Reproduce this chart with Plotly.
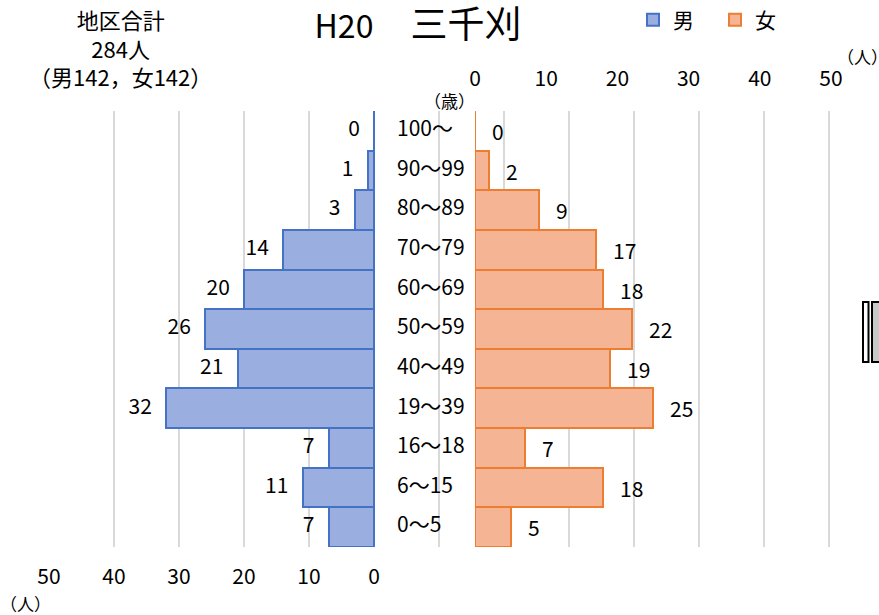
import plotly.graph_objects as go

W, H = 879, 615

categories = ["100〜", "90〜99", "80〜89", "70〜79", "60〜69", "50〜59",
              "40〜49", "19〜39", "16〜18", "6〜15", "0〜5"]
male = [0, 1, 3, 14, 20, 26, 21, 32, 7, 11, 7]
female = [0, 2, 9, 17, 18, 22, 19, 25, 7, 18, 5]
x_ticks = [0, 10, 20, 30, 40, 50]
title_latin = "H20"
title_cjk = "　三千刈"

FONT = "Noto Sans CJK JP, Noto Sans, sans-serif"
FS = 21
BLUE_LINE, BLUE_FILL = "#4472C4", "#9BAEE0"
ORANGE_LINE, ORANGE_FILL = "#ED7D31", "#F5B493"


def px(x):
    return x / W


def py(y):
    return 1 - y / H


NB = "\u00a0"

# male axis: 6.5 px per person, spans whole grid area
ppu_m = 6.5
x_left, x_right = 49, 831
m_range = [50, 50 - (x_right - x_left) / ppu_m]
label_x = 50 - (397 - x_left) / ppu_m   # where age labels start (in male axis units)
grid_vals = list(range(50, -80, -10))
grid_text = [str(v) if v >= 0 else "" for v in grid_vals]

fig = go.Figure()
fig.add_trace(go.Bar(
    y=categories, x=male, orientation="h", name="男",
    xaxis="x", yaxis="y",
    marker=dict(color=BLUE_FILL, line=dict(color=BLUE_LINE, width=2)),
))
# male value labels (left of bar ends)
fig.add_trace(go.Scatter(
    y=categories, x=male, mode="text",
    text=[f"{v}{NB*3}" for v in male], textposition="middle left",
    textfont=dict(size=FS, color="#000000", family=FONT),
    xaxis="x", yaxis="y", showlegend=False, hoverinfo="skip", cliponaxis=False,
))
# age category labels
fig.add_trace(go.Scatter(
    y=categories, x=[label_x] * len(categories), mode="text",
    text=categories, textposition="middle right",
    textfont=dict(size=FS, color="#000000", family=FONT),
    xaxis="x", yaxis="y", showlegend=False, hoverinfo="skip", cliponaxis=False,
))
fig.add_trace(go.Bar(
    y=categories, x=female, orientation="h", name="女",
    xaxis="x2", yaxis="y2",
    marker=dict(color=ORANGE_FILL, line=dict(color=ORANGE_LINE, width=2)),
    text=[f"{NB*3}{v}" for v in female], textposition="outside",
    textfont=dict(size=FS, color="#000000", family=FONT),
    constraintext="none", cliponaxis=False,
))

y_top, y_bot = 111, 547
ydom = [py(y_bot), py(y_top)]

fig.update_layout(
    width=W, height=H,
    margin=dict(l=0, r=0, t=0, b=0, autoexpand=False),
    paper_bgcolor="white", plot_bgcolor="rgba(0,0,0,0)",
    font=dict(family=FONT, size=FS, color="#000000"),
    bargap=0,
    showlegend=True,
    legend=dict(orientation="h", x=px(633), y=py(20), xanchor="left", yanchor="middle",
                font=dict(size=FS), entrywidth=37, entrywidthmode="pixels",
                bgcolor="rgba(0,0,0,0)"),
    title=dict(text=f"{title_latin}<span style='font-size:37px'>{title_cjk}</span>",
               x=px(418), y=py(27), xanchor="center", yanchor="middle",
               font=dict(size=32, family=FONT)),
    xaxis=dict(domain=[px(x_left), px(x_right)], range=m_range, anchor="y",
               tickvals=grid_vals, ticktext=grid_text, showgrid=True,
               gridcolor="#D9D9D9", gridwidth=2, zeroline=False, showline=False,
               ticks="", ticklabelstandoff=15, tickfont=dict(size=FS), automargin=False),
    yaxis=dict(domain=ydom, type="category", categoryorder="array",
               categoryarray=categories, range=[10.5, -0.5], anchor="x",
               showticklabels=False, showgrid=False, zeroline=False,
               showline=False, ticks="", automargin=False),
    xaxis2=dict(domain=[px(475), px(831)], range=[0, 50], anchor="y2", side="top",
                tickvals=x_ticks, showgrid=False, zeroline=False, showline=False,
                ticks="", ticklabelstandoff=20, tickfont=dict(size=FS), automargin=False),
    yaxis2=dict(domain=ydom, type="category", categoryorder="array",
                categoryarray=categories, range=[10.5, -0.5], anchor="x2",
                showticklabels=False, showgrid=False, zeroline=False, showline=False,
                automargin=False),
)

total_m, total_f = sum(male), sum(female)
fig.add_annotation(text=f"地区合計<br>{total_m + total_f}人<br>（男{total_m}，女{total_f}）",
                   x=px(120), y=py(48), xref="paper", yref="paper",
                   showarrow=False, font=dict(size=22), align="center",
                   xanchor="center", yanchor="middle")
fig.add_annotation(text="（人）", x=px(862), y=py(57), xref="paper", yref="paper",
                   showarrow=False, font=dict(size=17), xanchor="center", yanchor="middle")
fig.add_annotation(text="（歳）", x=px(450), y=py(101), xref="paper", yref="paper",
                   showarrow=False, font=dict(size=17), xanchor="center", yanchor="middle")
fig.add_annotation(text="（人）", x=px(25), y=py(603), xref="paper", yref="paper",
                   showarrow=False, font=dict(size=17), xanchor="center", yanchor="middle")

# cropped object at right edge
fig.add_shape(type="rect", xref="paper", yref="paper",
              x0=px(863), x1=px(868.5), y0=py(362), y1=py(302),
              line=dict(color="#000000", width=2), fillcolor="white")
fig.add_shape(type="rect", xref="paper", yref="paper",
              x0=px(872), x1=px(886), y0=py(362), y1=py(302),
              line=dict(color="#000000", width=2), fillcolor="#C8C8C8")

fig.write_html(
    "out.html",
    config={"displayModeBar": False},
    post_script="document.body.style.margin='0';document.body.style.overflow='hidden';",
)
